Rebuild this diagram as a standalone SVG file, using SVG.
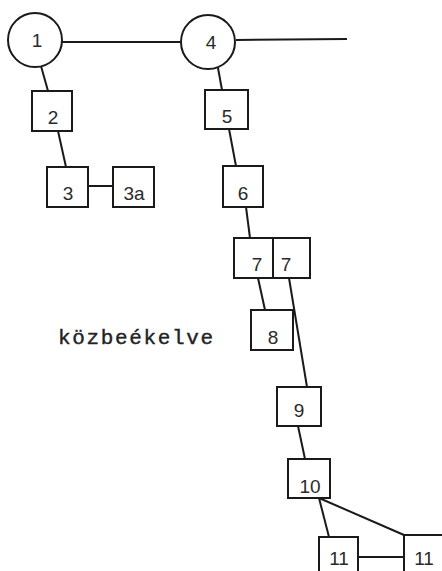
<svg xmlns="http://www.w3.org/2000/svg" width="442" height="571" viewBox="0 0 442 571">
<style>
.n{fill:#fff;stroke:#1a1a1a;stroke-width:2}
.c line{stroke:#1a1a1a;stroke-width:2}
.t{font-family:"Liberation Sans",Arial,sans-serif;font-size:19px;fill:#2a2a2a;text-anchor:middle}
.m{font-family:"Liberation Mono","Courier New",monospace;font-size:21px;fill:#222;stroke:#222;stroke-width:0.4}
</style>
<rect width="442" height="571" fill="#fff"/>
<g class="c" id="connectors">
<line x1="62" y1="42" x2="181" y2="42"/>
<line x1="236" y1="40" x2="347" y2="39"/>
<line x1="41" y1="66" x2="48" y2="91"/>
<line x1="58" y1="131" x2="66" y2="167"/>
<line x1="88" y1="186" x2="113" y2="186"/>
<line x1="218" y1="68" x2="222" y2="90"/>
<line x1="229" y1="129" x2="236" y2="166"/>
<line x1="246" y1="207" x2="250" y2="238"/>
<line x1="258" y1="278" x2="265" y2="310"/>
<line x1="289" y1="278" x2="307" y2="387"/>
<line x1="298" y1="426" x2="305" y2="459"/>
<line x1="319" y1="498" x2="329" y2="537"/>
<line x1="319" y1="498" x2="404" y2="535"/>
<line x1="358" y1="557" x2="404" y2="557"/>
</g>
<g id="n1"><circle class="n" cx="35" cy="40" r="27"/><text class="t" x="37" y="47">1</text></g>
<g id="n4"><circle class="n" cx="208" cy="42" r="27"/><text class="t" x="211" y="49">4</text></g>
<g id="n2"><rect class="n" x="32" y="91" width="40" height="40"/><text class="t" x="53" y="124">2</text></g>
<g id="n3"><rect class="n" x="47" y="167" width="41" height="40"/><text class="t" x="68" y="200">3</text></g>
<g id="n3a"><rect class="n" x="113" y="167" width="41" height="40"/><text class="t" x="134" y="200">3a</text></g>
<g id="n5"><rect class="n" x="205" y="90" width="43" height="39"/><text class="t" x="227" y="123">5</text></g>
<g id="n6"><rect class="n" x="223" y="166" width="40" height="41"/><text class="t" x="243" y="200">6</text></g>
<g id="n7"><rect class="n" x="234" y="238" width="39" height="40"/><text class="t" x="257" y="271">7</text></g>
<g id="n7b"><rect class="n" x="273" y="238" width="37" height="40"/><text class="t" x="286" y="271">7</text></g>
<g id="n8"><rect class="n" x="251" y="310" width="42" height="40"/><text class="t" x="273" y="344">8</text></g>
<g id="n9"><rect class="n" x="277" y="387" width="44" height="39"/><text class="t" x="299" y="417">9</text></g>
<g id="n10"><rect class="n" x="288" y="459" width="42" height="39"/><text class="t" x="310" y="493">10</text></g>
<g id="n11a"><rect class="n" x="319" y="537" width="39" height="40"/><text class="t" x="339" y="565">11</text></g>
<g id="n11b"><rect class="n" x="404" y="535" width="40" height="40"/><text class="t" x="424" y="565">11</text></g>
<text class="m" x="58" y="344" textLength="155" lengthAdjust="spacing">közbeékelve</text>
</svg>
